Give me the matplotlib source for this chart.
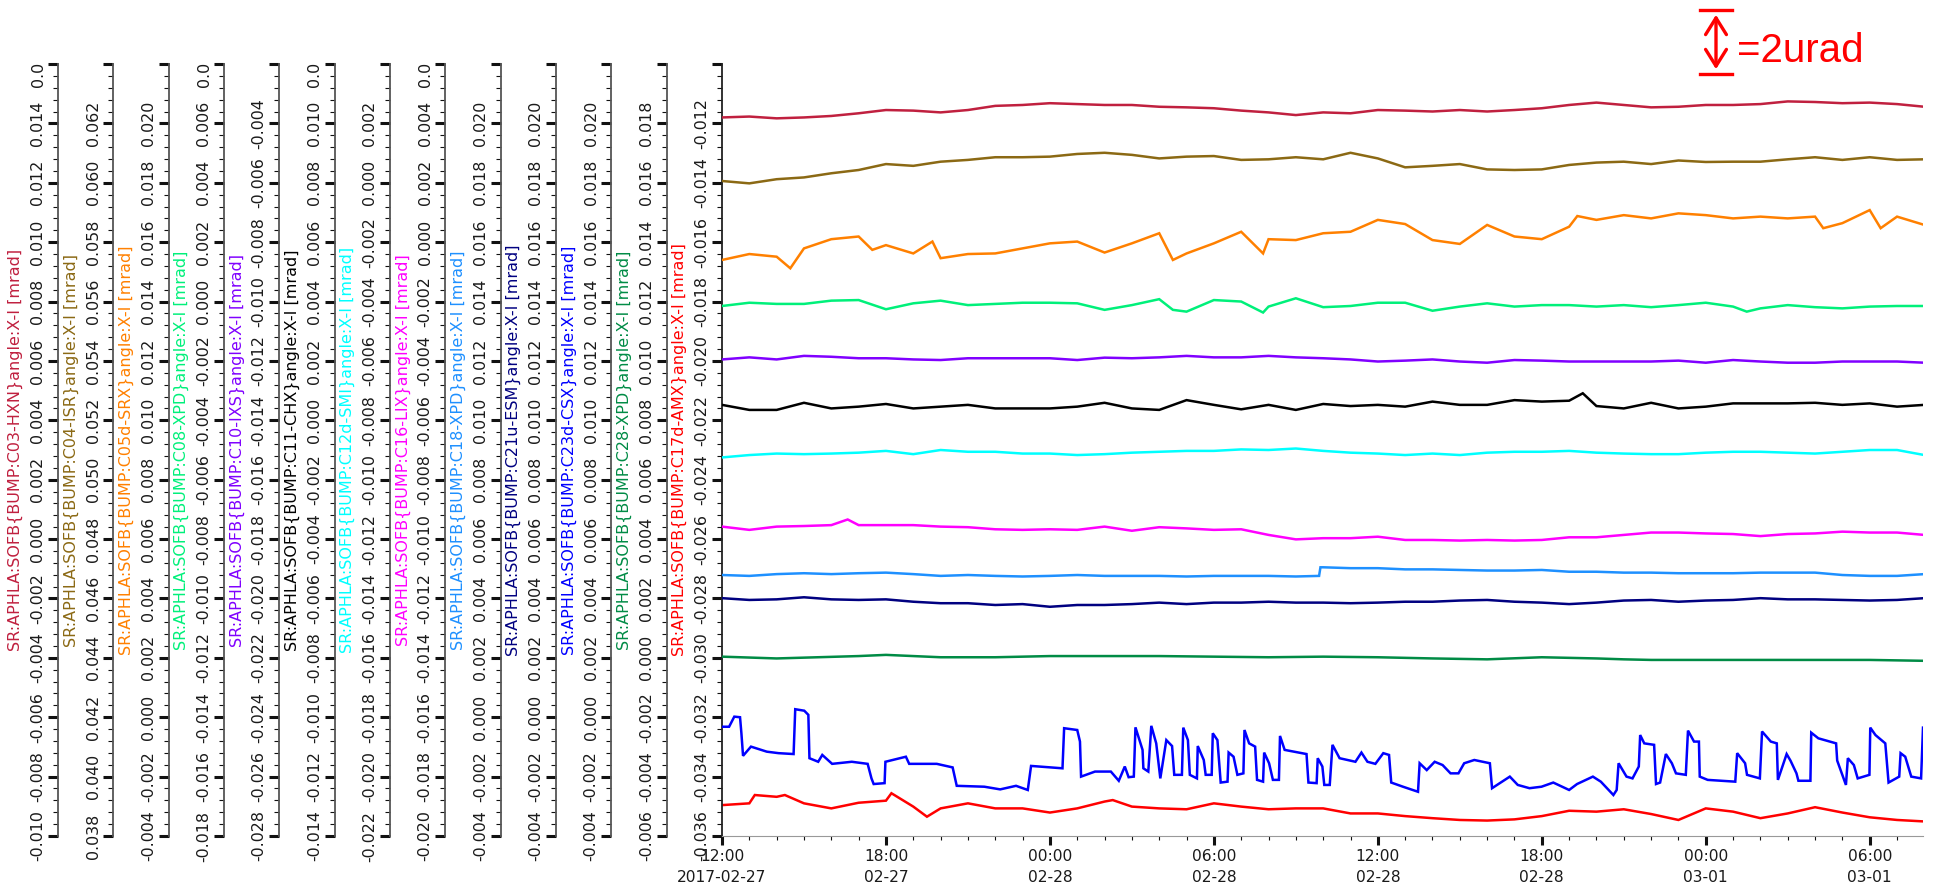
import numpy as np
import matplotlib
matplotlib.use('Agg')
import matplotlib.pyplot as plt
from matplotlib.ticker import MultipleLocator, AutoMinorLocator, FuncFormatter
from matplotlib.transforms import Bbox, TransformedBbox
from matplotlib.lines import Line2D
from datetime import datetime, timedelta

plt.rcParams['font.family'] = ['DejaVu Sans']
plt.rcParams['axes.unicode_minus'] = False

# hours since 2017-02-27 12:00
hours = np.arange(45)

hxn = [0.01420, 0.01423, 0.01417, 0.01420, 0.01425, 0.01434, 0.01445, 0.01443, 0.01437, 0.01445,
       0.01459, 0.01462, 0.01468, 0.01465, 0.01462, 0.01462, 0.01456, 0.01454, 0.01451, 0.01443,
       0.01437, 0.01428, 0.01437, 0.01434, 0.01445, 0.01443, 0.01440, 0.01445, 0.01440, 0.01445,
       0.01451, 0.01462, 0.01470, 0.01462, 0.01454, 0.01456, 0.01462, 0.01462, 0.01465, 0.01474,
       0.01472, 0.01468, 0.01470, 0.01465, 0.01456]

isr = [0.06006, 0.05998, 0.06012, 0.06018, 0.06032, 0.06043, 0.06063, 0.06057, 0.06071, 0.06077,
       0.06086, 0.06086, 0.06088, 0.06097, 0.06101, 0.06094, 0.06082, 0.06088, 0.06090, 0.06077,
       0.06079, 0.06086, 0.06079, 0.06101, 0.06082, 0.06052, 0.06057, 0.06063, 0.06045, 0.06043,
       0.06045, 0.06060, 0.06068, 0.06071, 0.06063, 0.06075, 0.06070, 0.06071, 0.06071, 0.06079,
       0.06086, 0.06077, 0.06086, 0.06077, 0.06079]

srx_t = [0, 1, 2, 2.5, 3, 4, 5, 5.5, 6, 7, 7.7, 8, 9, 10, 11, 12, 13, 14, 15, 16, 16.5, 17, 18, 19,
         19.8, 20, 21, 22, 23, 24, 25, 26, 27, 28, 29, 30, 31, 31.3, 32, 33, 34, 35, 36, 37, 38, 39,
         40, 40.3, 41, 42, 42.4, 43, 44]
srx = [0.01540, 0.01560, 0.01551, 0.01512, 0.01579, 0.01610, 0.01619, 0.01574, 0.01590, 0.01562,
       0.01602, 0.01546, 0.01560, 0.01562, 0.01579, 0.01596, 0.01602, 0.01565, 0.01596, 0.01630,
       0.01540, 0.01562, 0.01596, 0.01635, 0.01562, 0.01610, 0.01607, 0.01630, 0.01635, 0.01675,
       0.01661, 0.01607, 0.01594, 0.01658, 0.01619, 0.01610, 0.01652, 0.01688, 0.01675, 0.01691,
       0.01680, 0.01697, 0.01691, 0.01680, 0.01686, 0.01680, 0.01686, 0.01647, 0.01664, 0.01708,
       0.01647, 0.01686, 0.01658]

xpd08_t = [0, 1, 2, 3, 4, 5, 6, 7, 8, 9, 10, 11, 12, 13, 14, 15, 16, 16.5, 17, 18, 19, 19.8, 20,
           21, 22, 23, 24, 25, 26, 27, 28, 29, 30, 31, 32, 33, 34, 35, 36, 37, 37.5, 38, 39, 40,
           41, 42, 43, 44]
xpd08 = [-0.00015, -0.00004, -0.00008, -0.00008, 0.00003, 0.00005, -0.00026, -0.00006, 0.00003,
         -0.00012, -0.00008, -0.00004, -0.00004, -0.00006, -0.00028, -0.00012, 0.00008, -0.00028,
         -0.00034, 0.00005, -0.00000, -0.00037, -0.00017, 0.00011, -0.00019, -0.00015, -0.00004,
         -0.00004, -0.00031, -0.00017, -0.00006, -0.00017, -0.00012, -0.00012, -0.00017, -0.00012,
         -0.00019, -0.00012, -0.00004, -0.00017, -0.00034, -0.00023, -0.00012, -0.00019, -0.00023,
         -0.00017, -0.00015, -0.00015]

ixs = [-0.01195, -0.01188, -0.01195, -0.01183, -0.01186, -0.01191, -0.01191, -0.01195, -0.01197,
       -0.01191, -0.01191, -0.01191, -0.01191, -0.01197, -0.01189, -0.01191, -0.01188, -0.01183,
       -0.01188, -0.01188, -0.01183, -0.01188, -0.01191, -0.01195, -0.01202, -0.01199, -0.01195,
       -0.01202, -0.01206, -0.01197, -0.01199, -0.01202, -0.01202, -0.01202, -0.01202, -0.01199,
       -0.01206, -0.01197, -0.01202, -0.01206, -0.01206, -0.01202, -0.01202, -0.01202, -0.01206]

chx_t = list(range(32)) + [31.5] + list(range(32, 45))
chx = [0.00052, 0.00035, 0.00035, 0.00059, 0.00040, 0.00046, 0.00055, 0.00040, 0.00046, 0.00052,
       0.00040, 0.00040, 0.00040, 0.00046, 0.00059, 0.00040, 0.00035, 0.00068, 0.00052, 0.00037,
       0.00052, 0.00035, 0.00055, 0.00048, 0.00052, 0.00046, 0.00063, 0.00052, 0.00052, 0.00068,
       0.00063, 0.00066, 0.00091, 0.00048, 0.00040, 0.00059, 0.00040, 0.00046, 0.00057, 0.00057,
       0.00057, 0.00059, 0.00052, 0.00057, 0.00046, 0.00052]

smi = [-0.00925, -0.00917, -0.00912, -0.00914, -0.00912, -0.00909, -0.00903, -0.00914, -0.00900,
       -0.00906, -0.00906, -0.00912, -0.00912, -0.00917, -0.00914, -0.00909, -0.00906, -0.00903,
       -0.00903, -0.00898, -0.00900, -0.00895, -0.00903, -0.00909, -0.00912, -0.00917, -0.00912,
       -0.00917, -0.00909, -0.00906, -0.00906, -0.00903, -0.00909, -0.00912, -0.00914, -0.00914,
       -0.00909, -0.00906, -0.00906, -0.00909, -0.00912, -0.00906, -0.00900, -0.00900, -0.00917]

lix_t = [0, 1, 2, 3, 4, 4.6] + list(range(5, 45))
lix = [-0.00958, -0.00969, -0.00958, -0.00956, -0.00953, -0.00934, -0.00953, -0.00953, -0.00953,
       -0.00958, -0.00960, -0.00967, -0.00969, -0.00967, -0.00969, -0.00958, -0.00972, -0.00960,
       -0.00964, -0.00969, -0.00967, -0.00986, -0.01001, -0.00997, -0.00997, -0.00992, -0.01003,
       -0.01003, -0.01005, -0.01003, -0.01005, -0.01003, -0.00994, -0.00994, -0.00986, -0.00978,
       -0.00978, -0.00981, -0.00983, -0.00990, -0.00983, -0.00981, -0.00975, -0.00978, -0.00978,
       -0.00986]

xpd18_t = list(range(22)) + [21.85, 21.9] + list(range(22, 45))
xpd18 = [0.00479, 0.00476, 0.00482, 0.00485, 0.00482, 0.00485, 0.00487, 0.00482, 0.00476, 0.00479,
         0.00476, 0.00474, 0.00476, 0.00479, 0.00476, 0.00476, 0.00476, 0.00474, 0.00476, 0.00476,
         0.00476, 0.00474, 0.00476, 0.00505, 0.00505, 0.00502, 0.00502, 0.00498, 0.00498, 0.00496,
         0.00494, 0.00494, 0.00496, 0.00490, 0.00490, 0.00487, 0.00487, 0.00485, 0.00485, 0.00485,
         0.00487, 0.00487, 0.00487, 0.00479, 0.00476, 0.00476, 0.00482]

esm = [0.00401, 0.00395, 0.00397, 0.00404, 0.00397, 0.00395, 0.00397, 0.00389, 0.00384, 0.00384,
       0.00378, 0.00381, 0.00372, 0.00378, 0.00378, 0.00381, 0.00386, 0.00381, 0.00386, 0.00386,
       0.00389, 0.00386, 0.00386, 0.00384, 0.00386, 0.00389, 0.00389, 0.00393, 0.00395, 0.00389,
       0.00386, 0.00381, 0.00386, 0.00393, 0.00395, 0.00389, 0.00393, 0.00395, 0.00401, 0.00397,
       0.00397, 0.00395, 0.00393, 0.00395, 0.00401]

csx_t = [0.00, 0.26, 0.45, 0.66, 0.71, 0.77, 1.06, 1.64, 2.07, 2.62, 2.68, 3.01, 3.16, 3.20, 3.52,
         3.67, 4.03, 4.75, 5.33, 5.47, 5.55, 5.95, 5.98, 6.73, 6.85, 7.86, 8.44, 8.59, 9.60, 10.18,
         10.76, 11.19, 11.31, 12.46, 12.52, 13.00, 13.10, 13.14, 13.65, 14.23, 14.52, 14.74, 14.88,
         15.07, 15.13, 15.39, 15.42, 15.60, 15.71, 15.89, 15.97, 16.04, 16.26, 16.47, 16.55, 16.83,
         16.88, 17.05, 17.12, 17.38, 17.41, 17.63, 17.70, 17.92, 17.96, 18.13, 18.25, 18.50, 18.54,
         18.72, 18.86, 19.08, 19.12, 19.29, 19.51, 19.58, 19.80, 19.84, 20.02, 20.16, 20.38, 20.42,
         20.59, 21.39, 21.46, 21.76, 21.80, 21.97, 22.04, 22.24, 22.34, 22.60, 23.18, 23.40, 23.62,
         23.91, 24.20, 24.41, 24.49, 24.92, 25.47, 25.53, 25.79, 26.08, 26.37, 26.66, 26.95, 27.16,
         27.53, 28.10, 28.18, 28.83, 29.12, 29.55, 29.99, 30.42, 31.00, 31.29, 31.87, 32.16, 32.62,
         32.74, 32.81, 33.10, 33.32, 33.55, 33.60, 33.75, 34.11, 34.18, 34.33, 34.54, 34.76, 34.91,
         35.27, 35.35, 35.57, 35.75, 35.78, 36.07, 37.08, 37.15, 37.44, 37.51, 37.98, 38.06, 38.38,
         38.60, 38.64, 38.96, 39.10, 39.32, 39.39, 39.83, 39.86, 40.12, 40.77, 40.81, 41.13, 41.20,
         41.42, 41.56, 41.99, 42.02, 42.21, 42.57, 42.69, 43.08, 43.13, 43.30, 43.52, 43.88, 43.95]
csx = [-0.00032, -0.00032, 0.00002, 0.00000, -0.00054, -0.00130, -0.00099, -0.00116, -0.00121,
       -0.00124, 0.00027, 0.00022, 0.00008, -0.00138, -0.00150, -0.00127, -0.00157, -0.00150,
       -0.00157, -0.00206, -0.00225, -0.00222, -0.00150, -0.00133, -0.00157, -0.00157, -0.00169,
       -0.00231, -0.00234, -0.00243, -0.00231, -0.00245, -0.00164, -0.00172, -0.00037, -0.00043,
       -0.00082, -0.00200, -0.00183, -0.00183, -0.00214, -0.00166, -0.00202, -0.00200, -0.00034,
       -0.00110, -0.00172, -0.00183, -0.00029, -0.00088, -0.00150, -0.00206, -0.00077, -0.00097,
       -0.00194, -0.00194, -0.00035, -0.00077, -0.00194, -0.00206, -0.00097, -0.00144, -0.00194,
       -0.00194, -0.00054, -0.00077, -0.00220, -0.00217, -0.00119, -0.00133, -0.00194, -0.00189,
       -0.00043, -0.00088, -0.00099, -0.00211, -0.00217, -0.00119, -0.00155, -0.00211, -0.00211,
       -0.00063, -0.00110, -0.00124, -0.00220, -0.00222, -0.00138, -0.00166, -0.00228, -0.00228,
       -0.00093, -0.00138, -0.00150, -0.00119, -0.00150, -0.00157, -0.00121, -0.00127, -0.00220,
       -0.00234, -0.00251, -0.00155, -0.00178, -0.00150, -0.00161, -0.00189, -0.00189, -0.00155,
       -0.00144, -0.00155, -0.00239, -0.00200, -0.00228, -0.00239, -0.00234, -0.00220, -0.00245,
       -0.00225, -0.00200, -0.00217, -0.00262, -0.00245, -0.00155, -0.00200, -0.00206, -0.00166,
       -0.00060, -0.00088, -0.00093, -0.00225, -0.00220, -0.00124, -0.00155, -0.00189, -0.00194,
       -0.00045, -0.00082, -0.00082, -0.00200, -0.00211, -0.00217, -0.00121, -0.00155, -0.00194,
       -0.00206, -0.00048, -0.00082, -0.00088, -0.00211, -0.00124, -0.00146, -0.00189, -0.00214,
       -0.00214, -0.00052, -0.00071, -0.00088, -0.00146, -0.00228, -0.00138, -0.00161, -0.00206,
       -0.00194, -0.00035, -0.00060, -0.00088, -0.00220, -0.00200, -0.00121, -0.00133, -0.00200,
       -0.00206, -0.00035]

xpd28_t = [0, 2, 5, 6, 8, 10, 12, 14, 16, 18, 20, 22, 24, 26, 28, 30, 32, 33, 34, 36, 38, 40, 42, 44]
xpd28 = [0.00004, -0.00002, 0.00006, 0.00010, 0.00002, 0.00002, 0.00006, 0.00006, 0.00006, 0.00004,
         0.00002, 0.00004, 0.00002, -0.00002, -0.00005, 0.00002, -0.00002, -0.00005, -0.00007,
         -0.00007, -0.00007, -0.00007, -0.00007, -0.00010]

amx_t = [0, 1, 1.2, 2, 2.3, 3, 4, 5, 6, 6.2, 7, 7.5, 8, 9, 10, 11, 12, 13, 14, 14.3] + list(range(15, 45))
amx = [-0.03496, -0.03490, -0.03462, -0.03468, -0.03462, -0.03490, -0.03507, -0.03488, -0.03481,
       -0.03456, -0.03501, -0.03535, -0.03507, -0.03490, -0.03507, -0.03507, -0.03521, -0.03507,
       -0.03484, -0.03479, -0.03501, -0.03507, -0.03510, -0.03490, -0.03501, -0.03510, -0.03507,
       -0.03507, -0.03524, -0.03524, -0.03533, -0.03540, -0.03546, -0.03548, -0.03544, -0.03533,
       -0.03515, -0.03518, -0.03510, -0.03526, -0.03546, -0.03507, -0.03518, -0.03540, -0.03524,
       -0.03503, -0.03521, -0.03537, -0.03546, -0.03551]

bumps = ['C03-HXN', 'C04-ISR', 'C05d-SRX', 'C08-XPD', 'C10-IXS', 'C11-CHX', 'C12d-SMI',
         'C16-LIX', 'C18-XPD', 'C21u-ESM', 'C23d-CSX', 'C28-XPD', 'C17d-AMX']
colors = ['#c0203f', '#8b6914', '#ff8000', '#00f07a', '#8000ff', '#000000', '#00ffff',
          '#ff00ff', '#1e90ff', '#000080', '#0000ff', '#008b45', '#ff0000']
y_low = [-0.010, 0.038, -0.004, -0.018, -0.028, -0.014, -0.022, -0.020, -0.004, -0.004, -0.004,
         -0.006, -0.036]
series = [(hours, hxn), (hours, isr), (srx_t, srx), (xpd08_t, xpd08), (hours, ixs), (chx_t, chx),
          (hours, smi), (lix_t, lix), (xpd18_t, xpd18), (hours, esm), (csx_t, csx),
          (xpd28_t, xpd28), (amx_t, amx)]
span = 0.026
# axes whose top tick label pokes out above the frame
clipped_top = [True, False, False, True, False, True, False, True, False, False, False, False, False]

W, H = 1936, 892
left, right, top, bottom = 722, 1923, 64, 836
step = (left - 58) / 12.0

fig = plt.figure(figsize=(W / 100, H / 100), dpi=100)
ax = fig.add_axes([left / W, 1 - bottom / H, (right - left) / W, (bottom - top) / H])
t_end = 43.95


def style_y(a, lo, color, label):
    a.set_ylim(lo, lo + span)
    a.yaxis.set_major_locator(MultipleLocator(0.002))
    a.yaxis.set_minor_locator(AutoMinorLocator(5))
    hi = lo + span
    a.yaxis.set_major_formatter(FuncFormatter(
        lambda v, p: '' if abs(v - hi) < 1e-7 else '%.3f' % (round(v, 4) + 0.0)))
    a.tick_params(axis='y', which='major', length=7.2, width=2.2, direction='out',
                  labelsize=11.4, labelrotation=90, pad=2, colors='#111111', labelcolor='#1a1a1a')
    a.tick_params(axis='y', which='minor', length=3.6, width=0.8, direction='out', colors='#111111')
    for lab in a.get_yticklabels():
        lab.set_va('center')
    a.set_ylabel(label, color=color, fontsize=11.5, labelpad=5)


axes = []
for k in range(13):
    name, color, lo = bumps[k], colors[k], y_low[k]
    label = 'SR:APHLA:SOFB{BUMP:%s}angle:X-I [mrad]' % name
    if k == 12:
        a = ax
    else:
        a = ax.twinx()
        a.yaxis.set_ticks_position('left')
        a.yaxis.set_label_position('left')
        a.spines['left'].set_position(('outward', (12 - k) * step * 0.72))
        for s in ('right', 'top', 'bottom'):
            a.spines[s].set_visible(False)
    a.spines['left'].set_color('#555555')
    a.spines['left'].set_linewidth(1.3)
    style_y(a, lo, color, label)
    t, v = series[k]
    a.plot(t, v, color=color, lw=1.8, solid_joinstyle='miter')
    axes.append(a)

    if clipped_top[k]:
        sx = left - (12 - k) * step
        txt = fig.text((sx - 20) / W, 1 - top / H, '%.3f' % (lo + span), rotation=90,
                       ha='center', va='center', fontsize=11.4, color='#1a1a1a')
        txt.set_clip_box(TransformedBbox(Bbox([[0, 0], [1, 1 - top / H]]), fig.transFigure))
        txt.set_clip_on(True)

ax.spines['top'].set_visible(False)
ax.spines['right'].set_visible(False)
ax.spines['bottom'].set_color('#999999')
ax.spines['left'].set_color('#222222')
ax.set_xlim(0, t_end)

# time axis: major every 6 h, minor every hour
base = datetime(2017, 2, 27, 12, 0)
major = np.arange(0, t_end, 6)
labels = []
for i, h in enumerate(major):
    ts = base + timedelta(hours=float(h))
    labels.append(ts.strftime('%H:%M\n%Y-%m-%d') if i == 0 else ts.strftime('%H:%M\n%m-%d'))
ax.set_xticks(major)
ax.set_xticklabels(labels, linespacing=1.45, fontsize=11.2, color='#1a1a1a')
ax.xaxis.set_minor_locator(MultipleLocator(1))
ax.tick_params(axis='x', which='major', length=6.5, width=2.2, pad=3, colors='#111111',
               labelcolor='#1a1a1a')
ax.tick_params(axis='x', which='minor', length=3.2, width=0.8, colors='#111111')

# scale marker in the top right corner
red = '#ff0000'
for py in (10, 74):
    fig.add_artist(Line2D([1700 / W, 1732 / W], [1 - py / H, 1 - py / H], color=red, lw=2.4))
fig.add_artist(matplotlib.patches.FancyArrowPatch(
    (1716 / W, 1 - 12 / H), (1716 / W, 1 - 72 / H), transform=fig.transFigure,
    arrowstyle='<->,head_length=8,head_width=5', color=red, lw=2.4, mutation_scale=1.5))
fig.text(1737 / W, 1 - 51 / H, '=2urad', color=red, fontsize=29, family='Liberation Sans',
         ha='left', va='center')

fig.savefig('out.png', dpi=100)
